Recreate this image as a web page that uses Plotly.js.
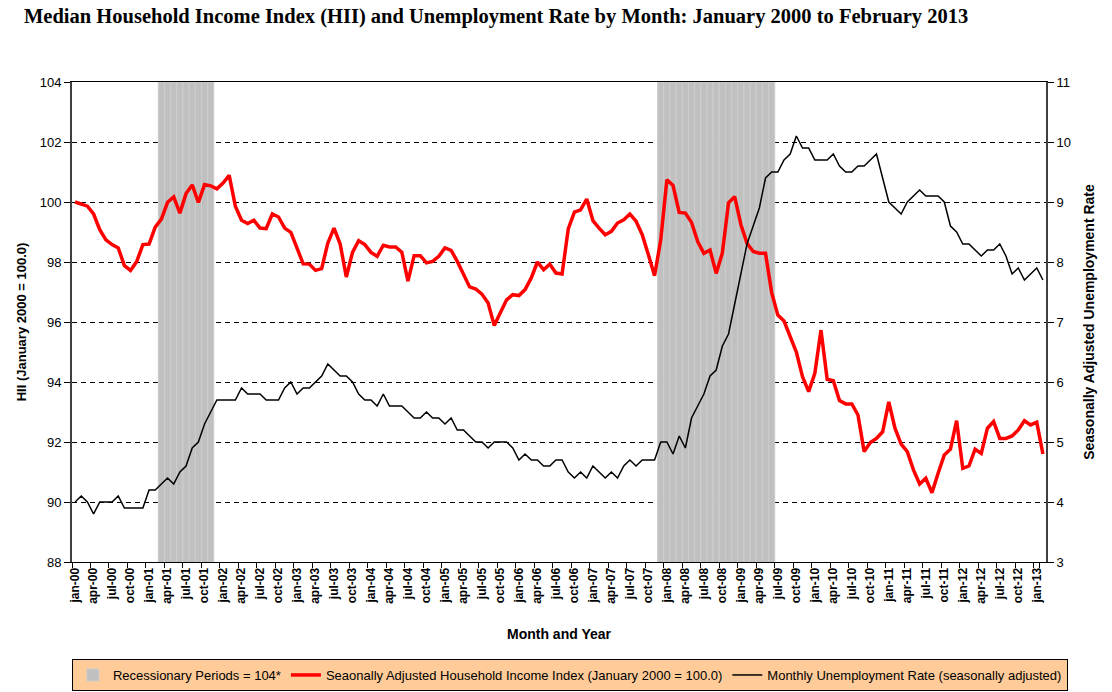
<!DOCTYPE html>
<html>
<head>
<meta charset="utf-8">
<script src="https://cdn.plot.ly/plotly-3.0.1.min.js"></script>
<style>html,body{margin:0;padding:0;background:#fff;}#chart{width:1112px;height:692px;}</style>
</head>
<body>
<div id="chart"></div>
<script>
// Month/year categories
const monthAbbr = ['jan','feb','mar','apr','may','jun','jul','aug','sep','oct','nov','dec'];
const yearSuffix = ['00','01','02','03','04','05','06','07','08','09','10','11','12','13'];
const months = [];
yearSuffix.forEach(y => monthAbbr.forEach(m => months.push(m + '-' + y)));
months.length = 158; // jan-00 .. feb-13

// Seasonally adjusted Household Income Index (Jan 2000 = 100)
const hii = [
  100.0, 99.93, 99.86, 99.6, 99.08, 98.74, 98.58, 98.47, 97.88, 97.72, 98.02, 98.58,
  98.6, 99.16, 99.43, 99.99, 100.17, 99.63, 100.28, 100.57, 99.99, 100.58, 100.54, 100.44,
  100.63, 100.89, 99.86, 99.39, 99.28, 99.39, 99.13, 99.11, 99.6, 99.5, 99.13, 98.99,
  98.43, 97.94, 97.93, 97.72, 97.78, 98.63, 99.13, 98.6, 97.5, 98.32, 98.71, 98.58,
  98.32, 98.19, 98.56, 98.5, 98.5, 98.33, 97.36, 98.21, 98.21, 97.97, 98.02, 98.19,
  98.47, 98.39, 98.02, 97.58, 97.17, 97.1, 96.93, 96.63, 95.88, 96.32, 96.74, 96.91,
  96.88, 97.08, 97.47, 98.0, 97.74, 97.93, 97.63, 97.6, 99.1, 99.66, 99.74, 100.1,
  99.38, 99.13, 98.91, 99.02, 99.3, 99.41, 99.6, 99.36, 98.91, 98.24, 97.54, 98.73,
  100.74, 100.55, 99.65, 99.63, 99.32, 98.68, 98.29, 98.4, 97.62, 98.3, 99.97, 100.18,
  99.25, 98.62, 98.35, 98.29, 98.29, 96.98, 96.23, 96.03, 95.5, 95.0, 94.18, 93.68,
  94.29, 95.73, 94.09, 94.04, 93.38, 93.27, 93.27, 92.9, 91.68, 91.98, 92.12, 92.34,
  93.34, 92.46, 91.93, 91.68, 91.07, 90.6, 90.79, 90.31, 90.96, 91.57, 91.76, 92.71,
  91.12, 91.2, 91.76, 91.62, 92.46, 92.68, 92.12, 92.12, 92.2, 92.4, 92.71, 92.57,
  92.66, 91.6
];

// Monthly unemployment rate (seasonally adjusted)
const unemployment = [
  4.0, 4.1, 4.0, 3.8, 4.0, 4.0, 4.0, 4.1, 3.9, 3.9, 3.9, 3.9,
  4.2, 4.2, 4.3, 4.4, 4.3, 4.5, 4.6, 4.9, 5.0, 5.3, 5.5, 5.7,
  5.7, 5.7, 5.7, 5.9, 5.8, 5.8, 5.8, 5.7, 5.7, 5.7, 5.9, 6.0,
  5.8, 5.9, 5.9, 6.0, 6.1, 6.3, 6.2, 6.1, 6.1, 6.0, 5.8, 5.7,
  5.7, 5.6, 5.8, 5.6, 5.6, 5.6, 5.5, 5.4, 5.4, 5.5, 5.4, 5.4,
  5.3, 5.4, 5.2, 5.2, 5.1, 5.0, 5.0, 4.9, 5.0, 5.0, 5.0, 4.9,
  4.7, 4.8, 4.7, 4.7, 4.6, 4.6, 4.7, 4.7, 4.5, 4.4, 4.5, 4.4,
  4.6, 4.5, 4.4, 4.5, 4.4, 4.6, 4.7, 4.6, 4.7, 4.7, 4.7, 5.0,
  5.0, 4.8, 5.1, 4.9, 5.4, 5.6, 5.8, 6.1, 6.2, 6.6, 6.8, 7.3,
  7.8, 8.3, 8.6, 8.9, 9.4, 9.5, 9.5, 9.7, 9.8, 10.1, 9.9, 9.9,
  9.7, 9.7, 9.7, 9.8, 9.6, 9.5, 9.5, 9.6, 9.6, 9.7, 9.8, 9.4,
  9.0, 8.9, 8.8, 9.0, 9.1, 9.2, 9.1, 9.1, 9.1, 9.0, 8.6, 8.5,
  8.3, 8.3, 8.2, 8.1, 8.2, 8.2, 8.3, 8.1, 7.8, 7.9, 7.7, 7.8,
  7.9, 7.7
];

// Recessionary periods (bars drawn at 104)
const recessionMonths = [
  'mar-01','apr-01','may-01','jun-01','jul-01','aug-01','sep-01','oct-01','nov-01',
  'dec-07','jan-08','feb-08','mar-08','apr-08','may-08','jun-08','jul-08','aug-08','sep-08',
  'oct-08','nov-08','dec-08','jan-09','feb-09','mar-09','apr-09','may-09','jun-09'
];
const recessionLevel = 104;
const recessionValues = recessionMonths.map(() => recessionLevel);

const tickLabels = months.filter((m, i) => i % 3 === 0);

const baseFont = 'Liberation Sans, Arial, sans-serif';

const traces = [
  {
    type: 'bar', name: 'Recessionary Periods = 104*',
    x: recessionMonths, y: recessionValues, yaxis: 'y',
    marker: {color: '#c0c0c0', line: {color: '#cdcdcd', width: 1}},
    hoverinfo: 'skip'
  },
  {
    type: 'scatter', mode: 'lines',
    name: 'Seaonally Adjusted Household Income Index (January 2000 = 100.0)',
    x: months, y: hii, yaxis: 'y',
    line: {color: '#ff0000', width: 3.5}
  },
  {
    type: 'scatter', mode: 'lines',
    name: 'Monthly Unemployment Rate (seasonally adjusted)',
    x: months, y: unemployment, yaxis: 'y2',
    line: {color: '#000000', width: 1.5}
  }
];

const layout = {
  width: 1112, height: 692,
  margin: {l: 72, r: 66, t: 82, b: 130, autoexpand: false},
  paper_bgcolor: '#ffffff', plot_bgcolor: '#ffffff',
  bargap: 0,
  showlegend: true,
  title: {
    text: 'Median Household Income Index (HII) and Unemployment Rate by Month: January 2000 to February 2013',
    font: {family: 'Liberation Serif, Times New Roman, serif', size: 20.5, color: '#000', weight: 'bold'},
    x: 24 / 1112, xref: 'container', xanchor: 'left',
    y: 1 - 16 / 692, yref: 'container', yanchor: 'middle'
  },
  xaxis: {
    type: 'category', categoryorder: 'array', categoryarray: months,
    range: [-0.5, months.length - 0.5],
    automargin: false,
    tickmode: 'array', tickvals: tickLabels, ticktext: tickLabels,
    tickson: 'boundaries', ticks: 'outside', ticklen: 5, tickcolor: '#000',
    tickangle: -90,
    tickfont: {family: baseFont, size: 12, color: '#000', weight: 'bold'},
    showline: true, linecolor: '#000', linewidth: 1, mirror: true,
    showgrid: false, zeroline: false,
    title: {text: 'Month and Year', font: {family: baseFont, size: 14, color: '#000', weight: 'bold'}, standoff: 26}
  },
  yaxis: {
    range: [88, 104], dtick: 2, tick0: 88,
    automargin: false,
    ticks: 'outside', ticklen: 6, tickcolor: '#000',
    tickfont: {family: baseFont, size: 13, color: '#000'},
    showline: true, linecolor: '#404040', linewidth: 2,
    showgrid: true, gridcolor: '#000', gridwidth: 1, griddash: '5px,4px',
    zeroline: false,
    title: {text: 'HII (January 2000 = 100.0)', font: {family: baseFont, size: 13, color: '#000', weight: 'bold'}, standoff: 10}
  },
  yaxis2: {
    overlaying: 'y', side: 'right',
    range: [3, 11], dtick: 1, tick0: 3,
    automargin: false,
    ticks: 'outside', ticklen: 6, tickcolor: '#000',
    tickfont: {family: baseFont, size: 13, color: '#000'},
    showline: true, linecolor: '#404040', linewidth: 2,
    showgrid: false, zeroline: false,
    title: {text: 'Seasonally Adjusted Unemployment Rate', font: {family: baseFont, size: 14, color: '#000', weight: 'bold'}, standoff: 14}
  },
  legend: {
    orientation: 'h', x: -0.0001, xanchor: 'left',
    y: -0.2021, yanchor: 'top',
    bgcolor: '#ffcc99', bordercolor: '#000', borderwidth: 1,
    font: {family: baseFont, size: 13, color: '#000'},
    traceorder: 'normal', itemwidth: 30
  }
};

Plotly.newPlot('chart', traces, layout, {displayModeBar: false, staticPlot: true});
</script>
</body>
</html>
